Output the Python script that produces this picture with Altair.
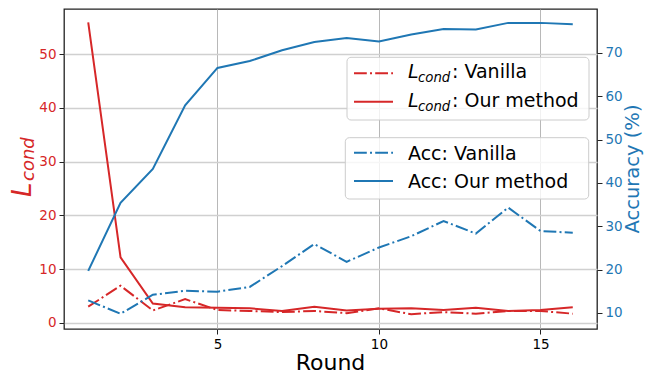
import altair as alt
import pandas as pd

# ---- data ----
rounds = list(range(1, 17))
lcond_vanilla = [3.0, 6.9, 2.3, 4.4, 2.4, 2.2, 2.0, 2.2, 1.8, 2.7, 1.6, 2.0, 1.7, 2.2, 2.2, 1.7]
lcond_ours = [55.9, 12.2, 3.6, 2.9, 2.8, 2.7, 2.2, 3.0, 2.3, 2.6, 2.7, 2.4, 2.8, 2.2, 2.4, 2.9]
acc_vanilla = [12.9, 9.8, 14.2, 15.1, 14.9, 16.0, 20.8, 25.9, 21.8, 25.1, 27.7, 31.2, 28.3, 34.3, 28.9, 28.5]
acc_ours = [19.7, 35.4, 43.2, 57.9, 66.5, 68.1, 70.6, 72.5, 73.4, 72.6, 74.2, 75.5, 75.4, 76.9, 76.9, 76.6]

x_ticks = [5, 10, 15]
left_ticks = [0, 10, 20, 30, 40, 50]
right_ticks = [10, 20, 30, 40, 50, 60, 70]
method_labels = [": Vanilla", ": Our method"]
acc_labels = ["Acc: Vanilla", "Acc: Our method"]

RED = "#d62728"
BLUE = "#1f77b4"
FONT = "DejaVu Sans"
DASH = [12.8, 3.2, 2, 3.2]

df = pd.DataFrame({
    "round": rounds,
    "lv": lcond_vanilla,
    "lo": lcond_ours,
    "av": acc_vanilla,
    "ao": acc_ours,
})
one = pd.DataFrame({"a": [0]})

x_enc = alt.X(
    "round:Q",
    scale=alt.Scale(domain=[0.25, 16.75], nice=False, zero=False),
    axis=alt.Axis(values=x_ticks, title=None, grid=True, gridColor="#b0b0b0",
                  gridWidth=0.9, labelColor="black", format="d"),
)

left_scale = alt.Scale(domain=[-1.15, 58.4], nice=False, zero=False)
left_axis = alt.Axis(orient="left", values=left_ticks, title=None, grid=True,
                     gridColor="#d0d0d0", gridWidth=1.6, labelColor=RED)
right_scale = alt.Scale(domain=[6.3, 80.1], nice=False, zero=False)
right_axis = alt.Axis(orient="right", values=right_ticks, title=None, grid=False,
                      labelColor=BLUE)

base = alt.Chart(df)
red_v = base.mark_line(color=RED, strokeWidth=2, strokeDash=DASH).encode(
    x=x_enc, y=alt.Y("lv:Q", scale=left_scale, axis=left_axis))
red_o = base.mark_line(color=RED, strokeWidth=2).encode(
    x=x_enc, y=alt.Y("lo:Q", scale=left_scale, axis=left_axis))
left = alt.layer(red_v, red_o)

blue_v = base.mark_line(color=BLUE, strokeWidth=2, strokeDash=DASH).encode(
    x=x_enc, y=alt.Y("av:Q", scale=right_scale, axis=right_axis))
blue_o = base.mark_line(color=BLUE, strokeWidth=2).encode(
    x=x_enc, y=alt.Y("ao:Q", scale=right_scale, axis=right_axis))
right = alt.layer(blue_v, blue_o)


def txt(t, x, y, size, color="black", style="normal", align="left",
        baseline="alphabetic", angle=0):
    return alt.Chart(one).mark_text(
        text=t, font=FONT, fontSize=size, fontStyle=style, color=color,
        align=align, baseline=baseline, angle=angle,
    ).encode(x=alt.value(x), y=alt.value(y))


def box(x1, x2, y1, y2):
    return alt.Chart(one).mark_rect(
        fill="white", fillOpacity=0.8, stroke="#cccccc", strokeWidth=1,
        cornerRadius=4,
    ).encode(x=alt.value(x1), x2=alt.value(x2), y=alt.value(y1), y2=alt.value(y2))


def sample(y, color, dashed):
    kw = dict(color=color, strokeWidth=2)
    if dashed:
        kw["strokeDash"] = DASH
    return alt.Chart(one).mark_rule(**kw).encode(
        x=alt.value(290), x2=alt.value(329), y=alt.value(y))


LX = 344
ann = [
    # legend 1
    box(283, 525, 48.3, 111),
    sample(64.3, RED, True),
    sample(92.7, RED, False),
    txt("L", LX, 69.3, 19, style="italic"),
    txt("cond", LX + 10, 73.3, 13.3, style="italic"),
    txt(method_labels[0], LX + 44, 69.3, 19),
    txt("L", LX, 97.7, 19, style="italic"),
    txt("cond", LX + 10, 101.7, 13.3, style="italic"),
    txt(method_labels[1], LX + 44, 97.7, 19),
    # legend 2
    box(281.3, 524.7, 128.7, 190),
    sample(143.7, BLUE, True),
    sample(172.0, BLUE, False),
    txt(acc_labels[0], LX, 151, 19),
    txt(acc_labels[1], LX, 179.3, 19),
    # axis titles
    txt("L", -33, 188, 26, color=RED, style="italic", angle=270),
    txt("cond", -30, 172, 18, color=RED, style="italic", angle=270),
    txt("Accuracy (%)", 575, 160, 19.5, color=BLUE, align="center", angle=270),
    txt("Round", 266.5, 361, 22, align="center"),
]

chart = alt.layer(left, right, *ann).resolve_scale(y="independent").properties(
    width=533, height=320,
    autosize=alt.AutoSizeParams(type="none"),
    padding={"left": 56, "top": 1, "right": 47, "bottom": 46},
).configure_view(
    stroke="#222222", strokeWidth=1.3,
).configure_axis(
    labelFont=FONT, labelFontSize=13.5, tickSize=5, tickWidth=1,
    tickColor="#222222", labelPadding=3, domain=False,
)

chart.save("out.html", embed_options={"renderer": "svg", "actions": False})
